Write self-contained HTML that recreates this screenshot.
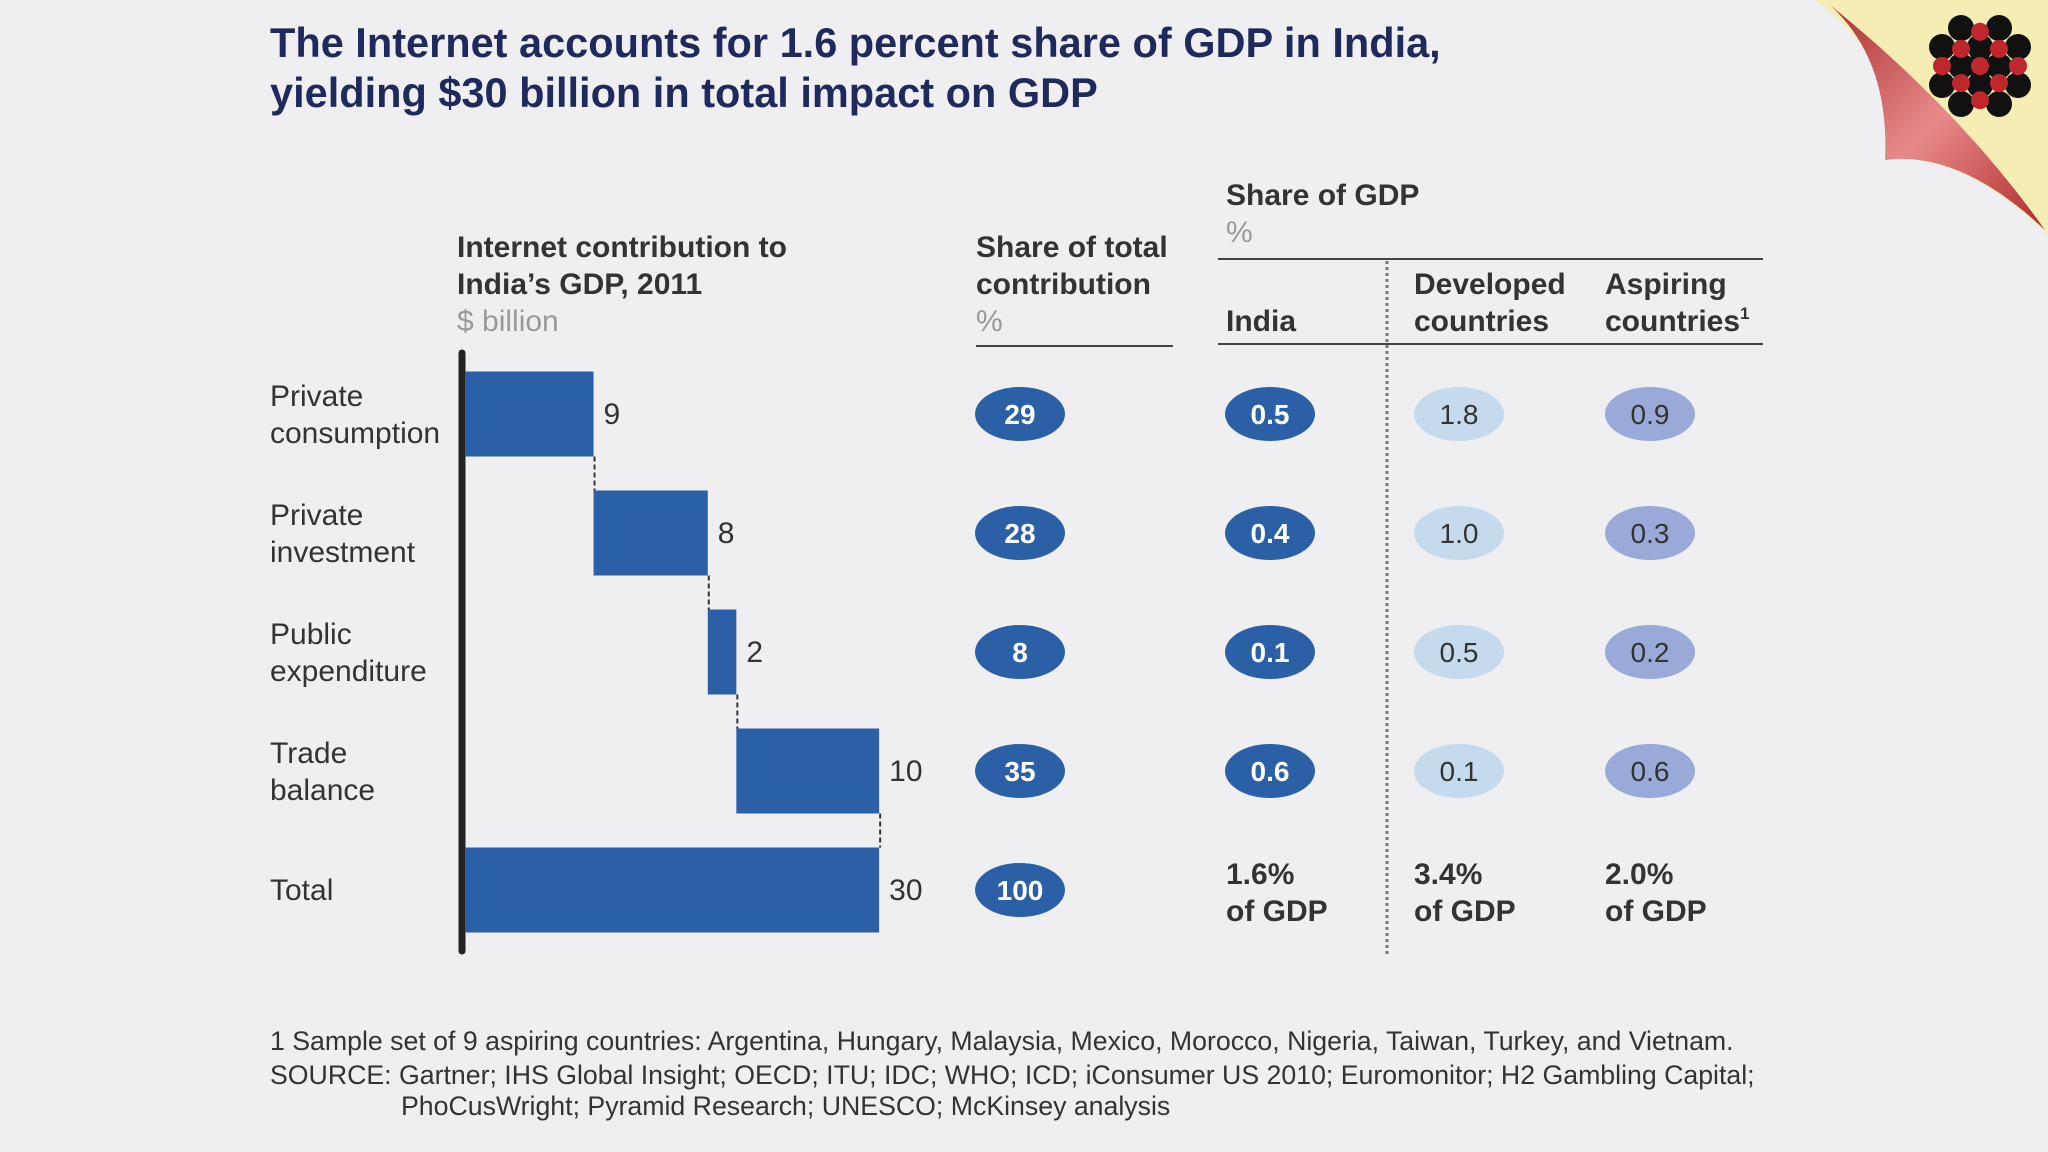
<!DOCTYPE html>
<html><head><meta charset="utf-8">
<style>
body{margin:0;width:2048px;height:1152px;background:#efeff1;overflow:hidden;font-family:"Liberation Sans",Arial,sans-serif;}
svg{position:absolute;left:0;top:0}
</style></head>
<body>
<svg width="2048" height="1152" id="s">
<defs>
<linearGradient id="curl" x1="0" y1="0" x2="1" y2="1">
<stop offset="0" stop-color="#a83030"/><stop offset="0.5" stop-color="#e88a8a"/><stop offset="1" stop-color="#b02a2a"/>
</linearGradient>
</defs>
<g>
<path d="M1815,0 L2048,0 L2048,235 Q1960,150 1885,160 Q1900,60 1815,0 Z" fill="#f5edb4"/>
<path d="M1830,5 Q1890,60 1885,160 Q1960,150 2045,230 Q1960,110 1830,5 Z" fill="url(#curl)"/>
</g>
<g id="logo"></g>
<g font-weight="bold" fill="#1f2a5c" font-size="41.5">
<text x="270" y="57">The Internet accounts for 1.6 percent share of GDP in India,</text>
<text x="270" y="107">yielding $30 billion in total impact on GDP</text>
</g>
<g font-size="30" fill="#333">
<text x="457" y="257" font-weight="bold">Internet contribution to</text>
<text x="457" y="294" font-weight="bold">India’s GDP, 2011</text>
<text x="457" y="331" fill="#999">$ billion</text>
<text x="976" y="257" font-weight="bold">Share of total</text>
<text x="976" y="294" font-weight="bold">contribution</text>
<text x="976" y="331" fill="#999">%</text>
<text x="1226" y="205" font-weight="bold">Share of GDP</text>
<text x="1226" y="242" fill="#999">%</text>
<text x="1226" y="331" font-weight="bold">India</text>
<text x="1414" y="294" font-weight="bold">Developed</text>
<text x="1414" y="331" font-weight="bold">countries</text>
<text x="1605" y="294" font-weight="bold">Aspiring</text>
<text x="1605" y="331" font-weight="bold">countries<tspan font-size="17" dy="-12">1</tspan></text>
</g>
<g stroke="#444" stroke-width="2">
<line x1="976" y1="346" x2="1173" y2="346"/>
<line x1="1218" y1="259" x2="1763" y2="259"/>
<line x1="1218" y1="344" x2="1763" y2="344"/>
</g>
<line x1="1387" y1="261" x2="1387" y2="957" stroke="#777" stroke-width="3" stroke-dasharray="3,3"/>
<line x1="462" y1="353" x2="462" y2="951" stroke="#222" stroke-width="7" stroke-linecap="round"/>
<g font-size="30" fill="#333" font-weight="bold">
<text x="1226" y="884">1.6%</text><text x="1226" y="921">of GDP</text>
<text x="1414" y="884">3.4%</text><text x="1414" y="921">of GDP</text>
<text x="1605" y="884">2.0%</text><text x="1605" y="921">of GDP</text>
</g>
<g font-size="26.7" fill="#333">
<text x="270" y="1050">1  Sample set of 9 aspiring countries: Argentina, Hungary, Malaysia, Mexico, Morocco, Nigeria, Taiwan, Turkey, and Vietnam.</text>
<text x="270" y="1084">SOURCE: Gartner; IHS Global Insight; OECD; ITU; IDC; WHO; ICD; iConsumer US 2010; Euromonitor; H2 Gambling Capital;</text>
<text x="401" y="1115">PhoCusWright; Pyramid Research; UNESCO; McKinsey analysis</text>
</g>
</svg>
<script>
const categories=[["Private","consumption"],["Private","investment"],["Public","expenditure"],["Trade","balance"],["Total"]];
const values=[9,8,2,10,30];
const shareTotal=["29","28","8","35","100"];
const shareIndia=["0.5","0.4","0.1","0.6"];
const shareDeveloped=["1.8","1.0","0.5","0.1"];
const shareAspiring=["0.9","0.3","0.2","0.6"];
const NS="http://www.w3.org/2000/svg";
const s=document.getElementById('s');
function mk(t,a,p){const e=document.createElementNS(NS,t);for(const k in a)e.setAttribute(k,a[k]);(p||s).appendChild(e);return e;}
const x0=465, unit=417/29.2;
const xs=v=>x0+v*unit;
const rowY=i=>414+i*119;
const barH=85;
let cum=0;
values.forEach((v,i)=>{
  const isTot=i===values.length-1;
  const start=isTot?0:cum, end=isTot?Math.min(v,cum):cum+v;
  const cy=rowY(i);
  const r=mk('rect',{x:xs(start),y:cy-barH/2,width:xs(end)-xs(start),height:barH,fill:'#2c60a6'});
  
  
  const t=mk('text',{x:xs(end)+10,y:cy+10,'font-size':30,fill:'#333'});
  t.textContent=v;
  
  
  if(!isTot){
    const c=mk('line',{x1:xs(end)+1,y1:cy+barH/2,x2:xs(end)+1,y2:rowY(i+1)-barH/2,stroke:'#333','stroke-width':2,'stroke-dasharray':'5,3'});
    
    
    cum+=v;
  }
  const lab=categories[i];
  const lt=mk('text',{x:270,y:lab.length>1?cy-8:cy+10,'font-size':30,fill:'#333'});
  
  
  lab.forEach((w,j)=>{const ts=mk('tspan',{x:270,dy:j?37:0},lt);ts.textContent=w;});
});
function pill(cx,cy,txt,fill,col,bold){
  const e=mk('ellipse',{cx:cx,cy:cy,rx:45,ry:27,fill:fill});
  
  
  const t=mk('text',{x:cx,y:cy+10,'font-size':28,'text-anchor':'middle',fill:col,'font-weight':bold?'bold':'normal'});
  t.textContent=txt;
  
  
}
shareTotal.forEach((v,i)=>pill(1020,rowY(i),v,'#2c60a6','#fff',true));
shareIndia.forEach((v,i)=>pill(1270,rowY(i),v,'#2c60a6','#fff',true));
shareDeveloped.forEach((v,i)=>pill(1459,rowY(i),v,'#c6daee','#333',false));
shareAspiring.forEach((v,i)=>pill(1650,rowY(i),v,'#9aaad8','#333',false));
const lg=document.getElementById('logo');
const cx=1980,cy=66,d=19;
[[-1,-2],[1,-2],[-2,-1],[2,-1],[-2,1],[2,1],[-1,2],[1,2],[0,0],[-1,0],[1,0],[0,-1],[0,1]].forEach(p=>mk('circle',{cx:cx+p[0]*d,cy:cy+p[1]*d,r:13,fill:'#111'},lg));
[[0,-2],[-1,-1],[1,-1],[-2,0],[0,0],[2,0],[-1,1],[1,1],[0,2]].forEach(p=>mk('circle',{cx:cx+p[0]*d,cy:cy+p[1]*d*0.9,r:9,fill:'#c0272d'},lg));
</script>
</body></html>
